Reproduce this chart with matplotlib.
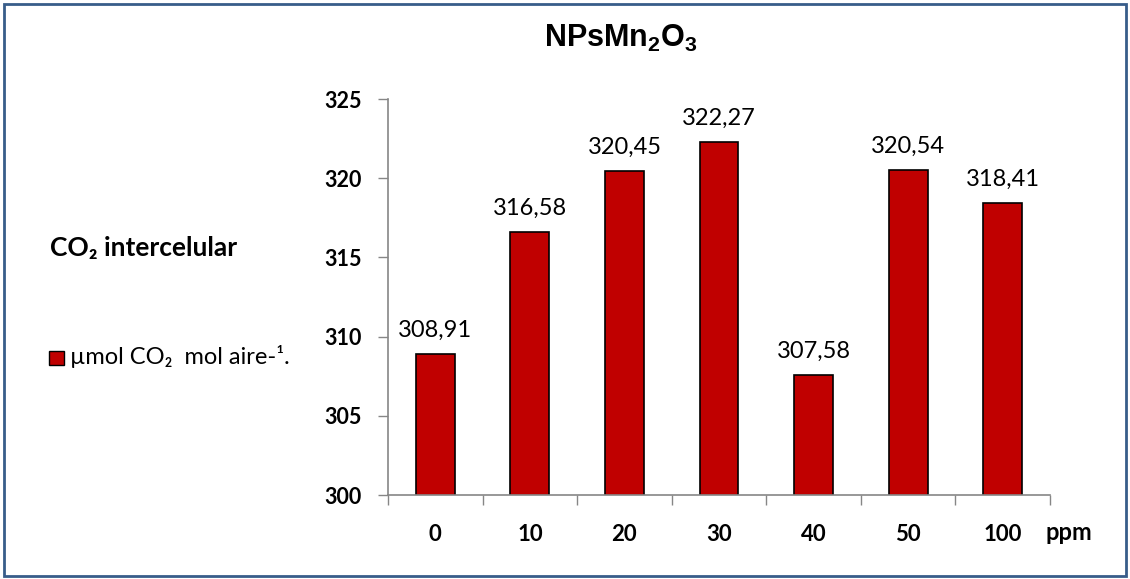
import matplotlib
matplotlib.use("Agg")
import matplotlib.pyplot as plt
from matplotlib.patches import Rectangle

categories = ["0", "10", "20", "30", "40", "50", "100"]
values = [308.91, 316.58, 320.45, 322.27, 307.58, 320.54, 318.41]
value_labels = ["308,91", "316,58", "320,45", "322,27", "307,58", "320,54", "318,41"]
y_ticks = [300, 305, 310, 315, 320, 325]

plt.rcParams['mathtext.fontset'] = 'custom'
plt.rcParams['mathtext.bf'] = 'Liberation Sans:bold'
plt.rcParams['mathtext.rm'] = 'Liberation Sans:bold'

FONT = ['Lato', 'DejaVu Sans']
BAR = '#C00000'
GRAY = '#868686'

fig = plt.figure(figsize=(11.30, 5.79), dpi=100)
ax = fig.add_axes([388/1130, 84/579, 662/1130, 396/579])

x = list(range(len(categories)))
ax.bar(x, values, width=0.41, color=BAR, edgecolor='black', linewidth=1.2)
ax.set_ylim(300, 325)
ax.set_xlim(-0.5, len(categories) - 0.5)

for xi, v, lab in zip(x, values, value_labels):
    ax.annotate(lab, (xi, v), xytext=(0, 9.5), textcoords='offset points',
                ha='center', va='bottom', fontsize=17, family=FONT)

ax.set_yticks(y_ticks)
ax.set_yticklabels([str(t) for t in y_ticks], fontsize=15.5, fontweight='bold', family=FONT)
ax.set_xticks(x)
ax.set_xticklabels(categories, fontsize=16, fontweight='bold', family=FONT)
ax.set_xticks([i - 0.5 for i in range(len(categories) + 1)], minor=True)
ax.tick_params(axis='x', which='major', length=0, pad=21)
ax.tick_params(axis='x', which='minor', length=7, width=1, color=GRAY, direction='out')
ax.tick_params(axis='y', which='major', length=7, width=1, color=GRAY, direction='out', pad=12)

for s in ['top', 'right']:
    ax.spines[s].set_visible(False)
for s in ['left', 'bottom']:
    ax.spines[s].set_color(GRAY)
    ax.spines[s].set_linewidth(1.2)

fig.text(1069/1130, 1 - 532/579, 'ppm', ha='center', va='center', fontsize=17,
         fontweight='bold', family=FONT)

fig.text(621/1130, 1 - 38/579, r'$\mathbf{NPsMn_2O_3}$', ha='center', va='center', fontsize=22)

fig.text(50/1130, 1 - 248/579, 'CO₂ intercelular', ha='left', va='center', fontsize=19,
         fontweight='bold', family=FONT)

fig.patches.append(Rectangle((49/1130, 1 - 365/579), 15/1130, 14/579, transform=fig.transFigure,
                             facecolor=BAR, edgecolor='black', linewidth=1.0))
fig.text(70/1130, 1 - 357/579, 'µmol CO₂  mol aire-¹.', ha='left', va='center', fontsize=17,
         family=FONT)

fig.patches.append(Rectangle((4/1130, 3/579), 1122/1130, 572/579, transform=fig.transFigure,
                             facecolor='none', edgecolor='#385D8A', linewidth=2.0))

fig.savefig('out.png', dpi=100)
